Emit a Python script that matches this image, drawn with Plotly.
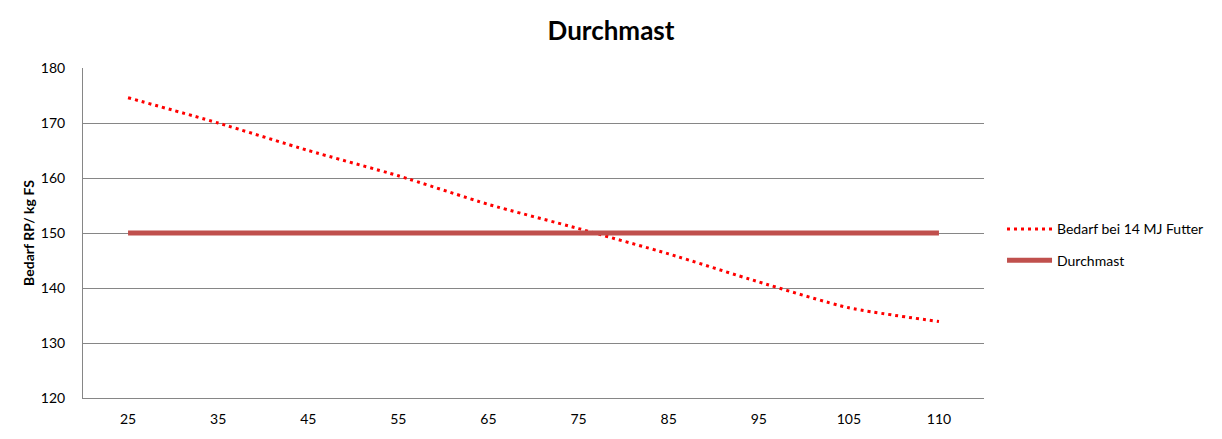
import plotly.graph_objects as go

categories = ["25", "35", "45", "55", "65", "75", "85", "95", "105", "110"]
bedarf = [174.6, 170.0, 165.0, 160.4, 155.2, 150.8, 146.2, 141.1, 136.4, 133.9]
durchmast = [150, 150, 150, 150, 150, 150, 150, 150, 150, 150]
y_ticks = [120, 130, 140, 150, 160, 170, 180]

FONT = "Lato"

fig = go.Figure()
fig.add_trace(go.Scatter(
    x=categories, y=bedarf, mode="lines", name="Bedarf bei 14 MJ Futter",
    legendgroup="a",
    line=dict(color="#FF0000", width=3, dash="3px,4px", shape="spline", smoothing=0.6),
))
fig.add_trace(go.Scatter(
    x=categories, y=durchmast, mode="lines", name="Durchmast",
    legendgroup="b",
    line=dict(color="#C0504D", width=5),
))

fig.update_layout(
    width=1222, height=439,
    margin=dict(l=83, r=238, t=68, b=39),
    paper_bgcolor="white", plot_bgcolor="white",
    font=dict(family=FONT, size=14, color="black"),
    title=dict(text="<b>Durchmast</b>", x=0.5, xanchor="center", y=0.93, yanchor="middle",
               font=dict(family=FONT, size=26, color="black")),
    showlegend=True,
    legend=dict(x=1.02, xanchor="left", y=0.464, yanchor="middle",
                font=dict(family=FONT, size=14, color="black"),
                bgcolor="rgba(0,0,0,0)", tracegroupgap=10, itemwidth=45),
)
fig.update_xaxes(
    type="category", range=[-0.5, 9.5],
    showgrid=False, showline=True, linecolor="#868686", linewidth=1,
    ticks="", ticklabelstandoff=8,
    tickfont=dict(family=FONT, size=14, color="black"),
    zeroline=False,
)
fig.update_yaxes(
    range=[120, 180], tickvals=y_ticks,
    showgrid=True, gridcolor="#868686", gridwidth=1,
    showline=True, linecolor="#868686", linewidth=1,
    ticks="", ticklabelstandoff=14,
    tickfont=dict(family=FONT, size=14, color="black"),
    title=dict(text="<b>Bedarf RP/ kg FS</b>", font=dict(family=FONT, size=14, color="black"), standoff=2),
    zeroline=False,
)

fig.write_html(
    "out.html",
    config={"displayModeBar": False},
    post_script="document.body.style.margin='0';document.body.style.overflow='hidden';",
)
